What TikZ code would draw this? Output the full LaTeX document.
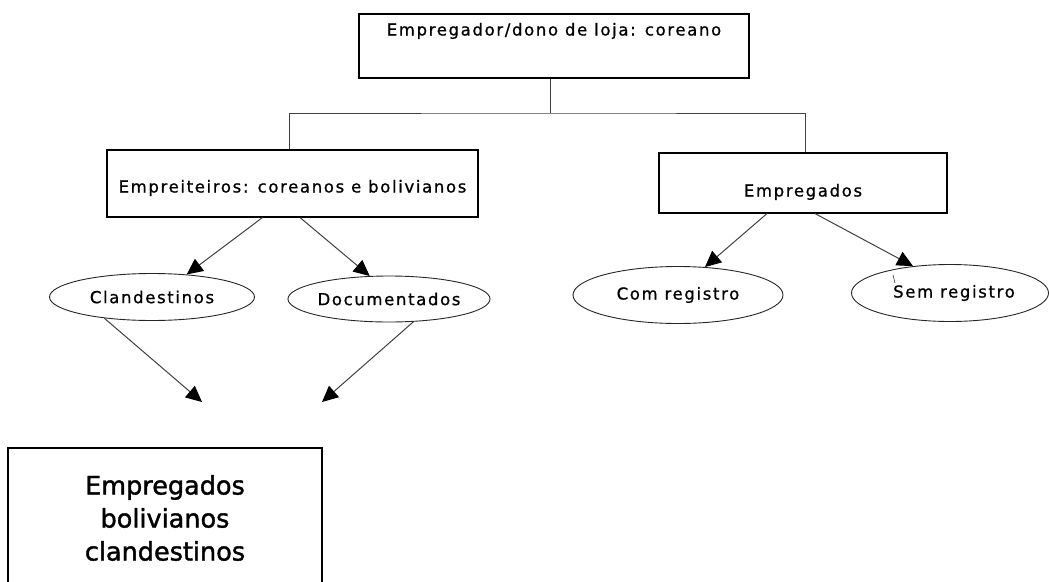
\documentclass[tikz,border=0pt]{standalone}
\usepackage{fontspec}
\setmainfont{DejaVu Sans}[FakeBold=1.4]
\newfontfamily\boxfont{DejaVu Sans}[LetterSpace=10,FakeBold=0.9]
\usetikzlibrary{arrows.meta}
\usetikzlibrary{shapes.geometric}
\usetikzlibrary{positioning}
\tikzset{>={Triangle[length=16pt,width=15pt,black]}}

\begin{document}
\begin{tikzpicture}[x=1pt,y=-1pt,
		box/.style={draw=black, line width=1.1pt, rectangle, inner sep=0pt,
			font=\boxfont\fontsize{16.5}{19}\selectfont},
		oval/.style={draw=black!85, line width=0.9pt, ellipse, inner sep=0pt,
			font=\boxfont\fontsize{16.5}{19}\selectfont},
		link/.style={draw=black!75, line width=1pt}]
		\useasboundingbox (0,0) rectangle (1049,581);

		% top of the chain
		\node[box, minimum width=390pt, minimum height=64pt,
			text height=0pt, text depth=21pt] (owner) at (554,46) {Empregador/dono de loja: coreano};
		\node[box, minimum width=371pt, minimum height=67pt,
			text height=18pt, text depth=0pt] (contr) at (292.5,183.5) {Empreiteiros: coreanos e bolivianos};
		\node[box, minimum width=288pt, minimum height=60pt,
			text height=27pt, text depth=0pt] (empl) at (803,183) {Empregados};

		\coordinate (bar) at (550,113);
		\draw[link] (owner.south -| bar) -- (bar);
		\draw[link] ([xshift=-3.5pt]contr.north) |- (bar) -| ([xshift=2pt]empl.north);

		% second row
		\node[oval, minimum width=205pt, minimum height=47pt] (clan) at (152,297) {Clandestinos};
		\node[oval, minimum width=202pt, minimum height=46pt] (docu) at (389,299) {Documentados};
		\node[oval, minimum width=210pt, minimum height=57pt] (comreg) at (678,295) {Com registro};
		\node[oval, minimum width=197pt, minimum height=57pt] (semreg) at (950,293) {\hspace{8pt}Sem registro};
		\draw[link, line width=0.6pt] (893,275) -- (895,283);

		\draw[link, ->] ([xshift=-30pt]contr.south) -- (clan.33);
		\draw[link, ->] ([xshift=7.5pt]contr.south) -- (docu.130);
		\draw[link, ->] ([xshift=-36pt]empl.south) -- (comreg.46);
		\draw[link, ->] ([xshift=12pt]empl.south) -- (semreg.144);

		% towards the bottom box
		\coordinate (tipA) at (202,402);
		\coordinate (tipB) at (322,402);
		\draw[link, ->] (clan.-156) -- (tipA);
		\draw[link, ->] (docu.-43) -- (tipB);

		\node[draw=black, line width=1.1pt, minimum width=314pt, minimum height=140pt,
			align=center, font=\fontsize{25.5}{33}\selectfont] (result) at (165,518)
			{Empregados\\bolivianos\\clandestinos};
\end{tikzpicture}
\end{document}
